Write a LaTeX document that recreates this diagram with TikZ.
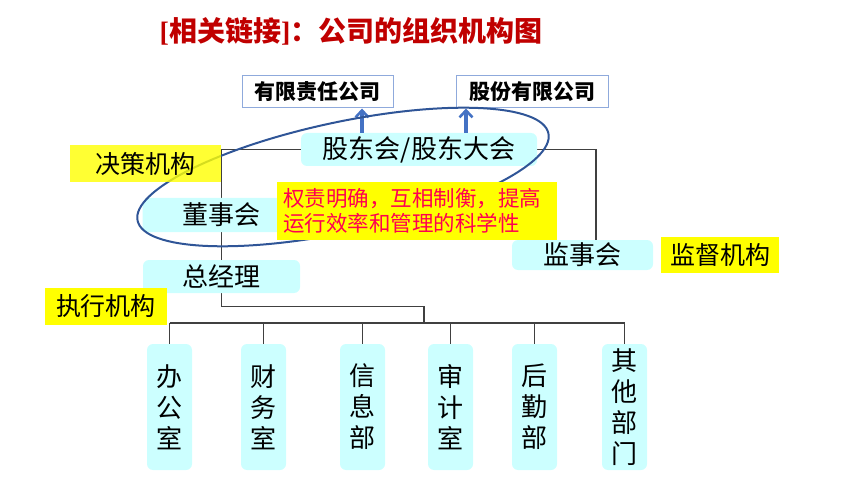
\documentclass[tikz,border=0pt]{standalone}
\usepackage{fontspec}
\setmainfont{Liberation Serif}
\newfontfamily\cjk{Noto Sans CJK SC}
\usetikzlibrary{arrows.meta}
\pgfdeclarelayer{bg}
\pgfsetlayers{bg,main}
\definecolor{boxcyan}{HTML}{CCFFFF}
\definecolor{lblyellow}{HTML}{FFFF00}
\definecolor{titlered}{HTML}{C00000}
\definecolor{notered}{HTML}{FF0050}
\definecolor{arrblue}{HTML}{4472C4}
\definecolor{ellblue}{HTML}{2F5597}
\definecolor{compborder}{HTML}{8FAADC}
\definecolor{connline}{HTML}{404040}
\tikzset{
  cyanbox/.style={fill=boxcyan, rounded corners=6pt, inner sep=0pt,
    font=\cjk\fontsize{26}{30}\selectfont},
  deptbox/.style={fill=boxcyan, rounded corners=6pt, inner sep=0pt,
    minimum width=45pt, minimum height=126pt, align=center,
    font=\cjk\fontsize{26}{31}\selectfont},
  yellowlbl/.style={fill=lblyellow, inner sep=0pt,
    font=\cjk\fontsize{25}{30}\selectfont},
  compbox/.style={draw=compborder, line width=1pt, fill=white, inner sep=0pt,
    minimum width=151pt, minimum height=32pt,
    font=\cjk\bfseries\fontsize{21}{25}\selectfont},
  conn/.style={draw=connline, line width=1.1pt},
  uparrow/.style={draw=arrblue, line width=3.4pt,
    -{Straight Barb[length=7pt,width=13pt,line width=2.6pt]}},
  ellline/.style={draw=ellblue, line width=2pt}
}
\begin{document}
\begin{tikzpicture}[x=1pt,y=-1pt]
\useasboundingbox (0,0) rectangle (860,484);

% title
\node[text=titlered, inner sep=0pt, font=\bfseries\fontsize{28}{32}\selectfont] (title) at (351,31)
  {[{\cjk\bfseries 相关链接}]{\cjk\bfseries ：公司的组织机构图}};

% named coordinates for connector ends
\coordinate (jr) at (596,240);
\coordinate (busmid) at (424,323);
\coordinate (a1) at (362,133);
\coordinate (a2) at (466,133);

% cyan boxes
\node[cyanbox, minimum width=236pt, minimum height=33pt] (gdh) at (419,149.5) {股东会/股东大会};
\node[cyanbox, minimum width=158pt, minimum height=34pt] (ds) at (221.5,215) {董事会};
\node[cyanbox, minimum width=157pt, minimum height=33pt] (zjl) at (221.5,276.5) {总经理};
\node[cyanbox, minimum width=141pt, minimum height=30pt] (jsh) at (582.5,255) {监事会};

\node[deptbox] (d1) at (169.5,407) {办\\公\\室};
\node[deptbox] (d2) at (263.5,407) {财\\务\\室};
\node[deptbox] (d3) at (362.5,407) {信\\息\\部};
\node[deptbox] (d4) at (450.5,407) {审\\计\\室};
\node[deptbox] (d5) at (534.5,407) {后\\勤\\部};
\node[deptbox] (d6) at (624.5,407) {其\\他\\部\\门};

% connectors behind boxes
\begin{pgfonlayer}{bg}
\draw[conn] (gdh.west) -| (ds.north);
\draw[conn] (ds.south) -- (zjl.north);
\draw[conn] (gdh.east) -| (jr);
\draw[conn] (zjl.south) -- ++(0,13.5) -| (busmid);
\draw[conn] (d1.north |- busmid) -- (d6.north |- busmid);
\foreach \d in {d1,d2,d3,d4,d5,d6} { \draw[conn] (\d.north |- busmid) -- (\d.north); }
\end{pgfonlayer}

% company type boxes
\node[compbox] (yx) at (317.5,92) {有限责任公司};
\node[compbox, minimum width=152pt] (gf) at (532,92) {股份有限公司};

% arrows
\draw[uparrow] (a1) -- (a1 |- yx.south);
\draw[uparrow] (a2) -- (a2 |- gf.south);

% ellipse
\draw[ellline, rotate around={12:(343,177)}] (343,177) ellipse [x radius=210, y radius=55];

% yellow labels
\node[yellowlbl, minimum width=151pt, minimum height=37pt, fill opacity=0.8, text opacity=1] (jc) at (145.5,163.5) {决策机构};
\node[yellowlbl, minimum width=122pt, minimum height=37pt] (zx) at (106,306.5) {执行机构};
\node[yellowlbl, minimum width=118pt, minimum height=36pt] (jd) at (720,255) {监督机构};
\node[fill=lblyellow, minimum width=280pt, minimum height=58pt, inner sep=0pt] (qz) at (417,211) {};
\node[anchor=west, inner sep=0pt, text=notered, align=left,
      font=\cjk\fontsize{21.5}{25}\selectfont] (qztext) at (283,211)
  {权责明确，互相制衡，提高\\运行效率和管理的科学性};
\end{tikzpicture}
\end{document}
